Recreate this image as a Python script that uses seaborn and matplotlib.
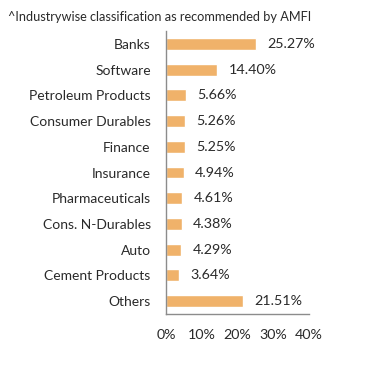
import numpy as np
import pandas as pd
import matplotlib.pyplot as plt
import seaborn as sns

# data
sectors = ['Banks', 'Software', 'Petroleum Products', 'Consumer Durables', 'Finance',
           'Insurance', 'Pharmaceuticals', 'Cons. N-Durables', 'Auto', 'Cement Products', 'Others']
weights = [25.27, 14.40, 5.66, 5.26, 5.25, 4.94, 4.61, 4.38, 4.29, 3.64, 21.51]
x_ticks = [0, 10, 20, 30, 40]

df = pd.DataFrame({'sector': sectors, 'weight': weights})

sns.set_style('white')
plt.rcParams['font.family'] = ['Lato', 'DejaVu Sans']
text_col = '#2a2a2a'
spine_col = '#8c8c8c'

fig = plt.figure(figsize=(3.91, 3.67), dpi=100)
ax = fig.add_axes([0.4246, 0.1444, 0.3657, 0.7711])

sns.barplot(data=df, y='sector', x='weight', orient='h', color='#F0B26A',
            saturation=1, width=0.46, ax=ax)

for i, v in enumerate(weights):
    ax.annotate(f'{v:.2f}%', (v, i), xytext=(8, 0), textcoords='offset points',
                va='center', ha='left', fontsize=10.3, color=text_col)

ax.set_xlim(0, 40)
ax.set_ylim(len(sectors) - 0.5, -0.5)
ax.set_xticks(x_ticks)
ax.set_xticklabels([f'{t}%' for t in x_ticks], fontsize=10.3, color=text_col)
ax.set_yticks(range(len(sectors)))
ax.set_yticklabels(sectors, fontsize=10, color=text_col)
ax.tick_params(axis='y', length=0, pad=11)
ax.set_yticks(np.arange(-0.5, len(sectors) + 0.5, 1), minor=True)
ax.tick_params(axis='y', which='minor', length=4, color=spine_col, direction='out', width=1)
ax.tick_params(axis='x', length=4, color=spine_col, direction='out', width=1, pad=7)
ax.set_xlabel('')
ax.set_ylabel('')

for s in ['top', 'right']:
    ax.spines[s].set_visible(False)
for s in ['left', 'bottom']:
    ax.spines[s].set_color(spine_col)
    ax.spines[s].set_linewidth(1)

fig.text(0.02, 0.955, '^Industrywise classification as recommended by AMFI',
         fontsize=9.2, color=text_col, ha='left', va='center')

fig.savefig('out.png', dpi=100)
